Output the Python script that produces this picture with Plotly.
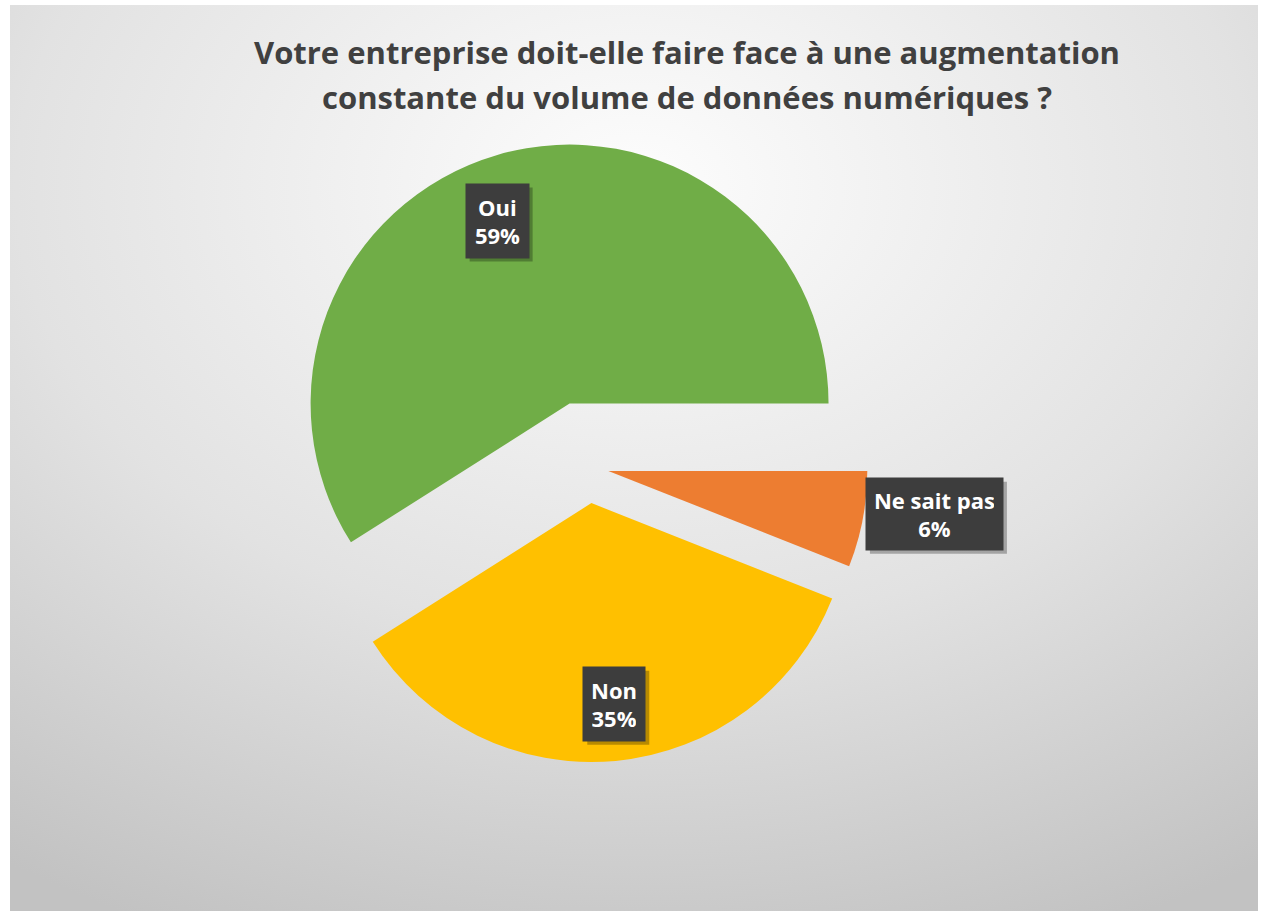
import base64
import math

import plotly.graph_objects as go

# données
labels = ["Oui", "Ne sait pas", "Non"]
values = [59, 6, 35]
colors = ["#70AD47", "#ED7D31", "#FFC000"]
pulls = [0.255, 0.08, 0.14]  # éclatement des parts (fraction du rayon)
title_lines = [
    "Votre entreprise doit-elle faire face à une augmentation",
    "constante du volume de données numériques ?",
]

# position des étiquettes : fraction du rayon et petit décalage angulaire
label_frac = [0.76, 1.27, 0.78]
label_nudge = [-5.4, -3.3, -1.1]
box_size = [(63, 74), (137, 72), (62, 74)]  # taille des boîtes en px

W, H = 1261, 914
M = dict(l=263, r=348, t=142, b=122)
plot_w = W - M["l"] - M["r"]
plot_h = H - M["t"] - M["b"]
FONT = "Open Sans"
PAD = 9
SH = 4  # décalage de l'ombre

total = sum(values)
# la part "Oui" se termine à 3 heures, sens horaire
rotation = 90 - 360 * values[0] / total


def to_paper(px, py):
    return (px - M["l"]) / plot_w, 1 - (py - M["t"]) / plot_h


# fond en dégradé radial (image svg)
svg = (
    "<svg xmlns='http://www.w3.org/2000/svg' width='1248' height='906' "
    "viewBox='0 0 1248 906' preserveAspectRatio='none'><defs>"
    "<radialGradient id='g' cx='0.5' cy='0.2' r='0.9'>"
    "<stop offset='0' stop-color='#fdfdfd'/>"
    "<stop offset='0.55' stop-color='#e2e2e2'/>"
    "<stop offset='1' stop-color='#c2c2c2'/>"
    "</radialGradient></defs>"
    "<rect width='1248' height='906' fill='url(#g)'/></svg>"
)
bg_src = "data:image/svg+xml;base64," + base64.b64encode(svg.encode()).decode()
bx, by = to_paper(10, 5)

fig = go.Figure(
    go.Pie(
        labels=labels,
        values=values,
        marker=dict(colors=colors, line=dict(width=0)),
        pull=pulls,
        sort=False,
        direction="clockwise",
        rotation=rotation,
        textinfo="none",
        hoverinfo="label+percent",
        showlegend=False,
    )
)

# étiquettes en boîtes sombres, calculées à partir des angles des parts
cx = M["l"] + plot_w / 2
cy = M["t"] + plot_h / 2
R = min(plot_w, plot_h) / 2 / (1 + max(pulls))
annotations = []
shapes = []
cum = 0
for lab, v, p, f, nudge, (bw, bh) in zip(labels, values, pulls, label_frac,
                                         label_nudge, box_size):
    mid = math.radians(rotation + (cum + v / 2) * 360 / total)
    cum += v
    pcx = cx + p * R * math.sin(mid)
    pcy = cy - p * R * math.cos(mid)
    a = mid + math.radians(nudge)
    lx, ly = to_paper(pcx + f * R * math.sin(a), pcy - f * R * math.cos(a))
    shapes.append(dict(type="rect", xref="paper", yref="paper",
                       xsizemode="pixel", ysizemode="pixel", xanchor=lx, yanchor=ly,
                       x0=-bw / 2 + SH, x1=bw / 2 + SH, y0=-bh / 2 - SH, y1=bh / 2 - SH,
                       fillcolor="rgba(0,0,0,0.28)", line=dict(width=0)))
    annotations.append(dict(
        x=lx, y=ly, xref="paper", yref="paper",
        text=f"<b>{lab}</b><br><b>{round(100 * v / total)}%</b>",
        xanchor="center", yanchor="middle", showarrow=False, align="center",
        width=bw - 2 * PAD, height=bh - 2 * PAD, borderpad=PAD,
        bgcolor="#3d3d3d", font=dict(family=FONT, size=22, color="#ffffff"),
    ))

for i, line in enumerate(title_lines):
    tx, ty = to_paper(687, 52 + 45 * i)
    annotations.append(dict(x=tx, y=ty, xref="paper", yref="paper", text=f"<b>{line}</b>",
                            showarrow=False, xanchor="center", yanchor="middle",
                            font=dict(family=FONT, size=31, color="#404040")))

fig.update_layout(
    width=W,
    height=H,
    margin=M,
    paper_bgcolor="#ffffff",
    plot_bgcolor="rgba(0,0,0,0)",
    annotations=annotations,
    shapes=shapes,
    images=[dict(source=bg_src, xref="paper", yref="paper", x=bx, y=by,
                 sizex=1248 / plot_w, sizey=906 / plot_h, xanchor="left",
                 yanchor="top", sizing="stretch", layer="below")],
)

fig.write_html(
    "out.html",
    config={"displayModeBar": False},
    post_script="document.body.style.margin='0';document.body.style.overflow='hidden';",
)
